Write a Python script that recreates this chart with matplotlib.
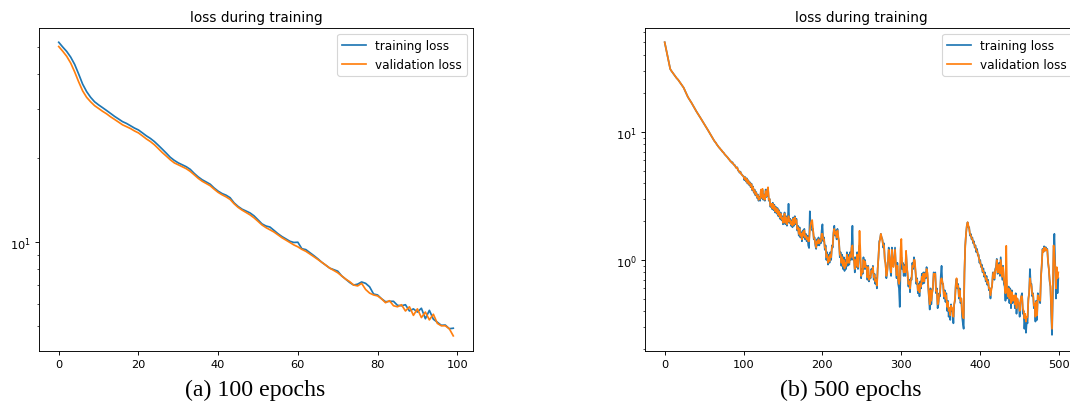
import matplotlib
matplotlib.use("Agg")
import matplotlib.pyplot as plt
import numpy as np

# ---------------- data ----------------
title_text = "loss during training"
legend_labels = ["training loss", "validation loss"]
captions = ["(a) 100 epochs", "(b) 500 epochs"]
left_xticks = [0, 20, 40, 60, 80, 100]
right_xticks = [0, 100, 200, 300, 400, 500]

left_train = [52.0, 50.0, 48.2, 46.0, 43.3, 40.0, 36.8, 34.6, 33.0, 31.8,
              31.0, 30.3, 29.6, 28.9, 28.2, 27.6, 27.0, 26.6, 26.1, 25.6,
              25.2, 24.6, 24.0, 23.5, 22.9, 22.2, 21.5, 20.8, 20.1, 19.6,
              19.2, 18.9, 18.6, 18.2, 17.6, 17.1, 16.7, 16.4, 16.1, 15.6,
              15.2, 14.9, 14.7, 14.4, 13.8, 13.4, 13.1, 12.9, 12.7, 12.4,
              12.0, 11.6, 11.4, 11.3, 11.0, 10.7, 10.45, 10.25, 10.05, 9.95,
              9.97, 9.45, 9.38, 9.15, 8.93, 8.7, 8.45, 8.25, 8.05, 7.95,
              7.85, 7.55, 7.35, 7.15, 7.0, 7.05, 7.18, 7.1, 6.9, 6.5,
              6.45, 6.25, 6.1, 6.12, 6.12, 5.92, 5.9, 5.95, 5.65, 5.75,
              5.6, 5.78, 5.3, 5.68, 5.28, 5.15, 5.02, 5.03, 4.88, 4.9]

left_val = [50.2, 48.3, 46.3, 43.8, 40.7, 37.5, 34.8, 33.0, 31.8, 30.8,
            30.1, 29.4, 28.8, 28.1, 27.5, 26.9, 26.3, 25.9, 25.5, 25.0,
            24.6, 24.0, 23.4, 22.9, 22.3, 21.6, 20.9, 20.3, 19.7, 19.2,
            18.9, 18.6, 18.3, 17.9, 17.4, 16.9, 16.5, 16.2, 15.9, 15.45,
            15.05, 14.75, 14.5, 14.2, 13.7, 13.3, 13.0, 12.75, 12.5, 12.2,
            11.85, 11.5, 11.25, 11.05, 10.85, 10.6, 10.35, 10.15, 9.95, 9.75,
            9.6, 9.4, 9.25, 9.05, 8.85, 8.65, 8.45, 8.25, 8.05, 7.9,
            7.75, 7.55, 7.35, 7.2, 7.0, 6.95, 7.1, 6.75, 6.55, 6.45,
            6.4, 6.25, 6.05, 6.15, 5.9, 5.85, 5.95, 5.65, 5.85, 5.45,
            5.75, 5.35, 5.6, 5.25, 5.5, 5.1, 5.0, 5.0, 4.88, 4.6]

right_train = [
    50.2, 46.9, 43.8, 40.9, 38.2, 35.7, 33.3, 31.1, 30.3, 29.7,
    29.1, 28.5, 27.9, 27.4, 26.9, 26.4, 26.0, 25.6, 25.1, 24.6,
    24.1, 23.6, 23.1, 22.6, 22.2, 21.5, 20.8, 20.2, 19.6, 19.0,
    18.5, 18.1, 17.7, 17.3, 16.9, 16.5, 16.1, 15.7, 15.3, 14.9,
    14.55, 14.2, 13.9, 13.6, 13.3, 13.0, 12.7, 12.4, 12.1, 11.8,
    11.5, 11.3, 11.05, 10.8, 10.55, 10.3, 10.05, 9.8, 9.55, 9.3,
    9.1, 8.9, 8.7, 8.5, 8.35, 8.2, 8.0, 7.85, 7.7, 7.55,
    7.45, 7.3, 7.2, 7.05, 6.95, 6.85, 6.7, 6.6, 6.5, 6.4,
    6.3, 6.15, 6.1, 5.95, 5.9, 5.75, 5.8, 5.6, 5.55, 5.5,
    5.3, 5.25, 5.3, 5.0, 4.95, 4.8, 4.9, 4.7, 4.65, 4.55,
    4.5, 4.2, 4.45, 4.1, 4.35, 3.95, 4.2, 3.85, 4.05, 3.7,
    3.95, 3.5, 3.75, 3.35, 3.55, 3.2, 3.4, 3.05, 3.25, 2.9,
    3.1, 2.9, 3.45, 3.05, 3.5, 2.95, 3.25, 2.9, 3.55, 3.1,
    3.45, 3.65, 2.9, 3.0, 2.6, 2.75, 2.5, 2.8, 2.45, 2.7,
    2.35, 2.6, 2.3, 2.55, 2.2, 2.45, 2.1, 2.35, 2.05, 2.2,
    1.9, 2.15, 2.35, 1.9, 2.2, 1.85, 2.05, 2.75, 1.95, 2.1,
    1.85, 2.05, 1.8, 2.15, 1.85, 2.2, 1.9, 2.1, 1.7, 1.85,
    1.55, 1.8, 1.5, 1.65, 1.4, 1.7, 1.5, 1.75, 1.45, 1.6,
    1.4, 1.55, 1.3, 1.24, 2.4, 1.85, 2.0, 1.7, 1.75, 1.45,
    1.5, 1.3, 1.22, 1.45, 1.3, 1.5, 1.3, 1.45, 1.35, 1.7,
    1.9, 1.4, 1.5, 1.2, 1.3, 1.0, 1.15, 0.92, 1.1, 0.95,
    1.15, 1.0, 1.3, 1.25, 1.65, 1.85, 1.55, 1.7, 1.45, 1.75,
    1.5, 1.4, 1.05, 1.15, 0.9, 1.1, 0.85, 1.05, 0.82, 1.0,
    0.85, 1.15, 0.9, 1.1, 0.92, 1.15, 1.0, 1.3, 1.85, 1.0,
    1.05, 0.8, 1.05, 0.88, 1.15, 0.85, 1.1, 1.3, 1.0, 0.72,
    0.85, 0.78, 1.05, 0.85, 1.0, 0.85, 0.9, 0.7, 0.9, 0.68,
    0.75, 0.72, 0.85, 0.8, 0.9, 0.7, 0.78, 0.65, 0.72, 0.6,
    0.85, 1.05, 1.4, 1.45, 1.6, 1.5, 1.45, 1.25, 1.35, 1.0,
    0.95, 0.72, 0.8, 0.95, 1.25, 1.05, 0.85, 0.75, 1.25, 0.9,
    0.9, 1.05, 1.25, 0.9, 0.72, 0.95, 0.65, 0.6, 0.43, 0.85,
    1.05, 0.85, 0.95, 0.75, 0.92, 0.75, 1.15, 0.9, 0.75, 0.62,
    0.7, 0.56, 0.72, 0.7, 0.95, 0.85, 1.05, 0.95, 0.8, 0.65,
    0.72, 0.55, 0.65, 0.52, 0.68, 0.6, 0.78, 0.65, 0.8, 0.66,
    0.8, 0.72, 0.88, 0.78, 0.62, 0.5, 0.41, 0.6, 0.45, 0.55,
    0.6, 0.8, 0.75, 0.8, 0.55, 0.6, 0.42, 0.45, 0.55, 0.52,
    0.75, 0.9, 0.65, 0.65, 0.5, 0.58, 0.47, 0.55, 0.4, 0.48,
    0.36, 0.42, 0.34, 0.45, 0.4, 0.4, 0.32, 0.45, 0.48, 0.65,
    0.71, 0.6, 0.65, 0.5, 0.6, 0.46, 0.5, 0.36, 0.32, 0.29,
    0.8, 1.29, 1.6, 1.85, 1.97, 1.8, 1.8, 1.55, 1.6, 1.45,
    1.5, 1.35, 1.4, 1.25, 1.3, 1.15, 1.22, 1.08, 1.1, 0.95,
    1.0, 0.88, 0.92, 0.8, 0.86, 0.74, 0.8, 0.68, 0.75, 0.64,
    0.7, 0.58, 0.6, 0.5, 0.6, 0.62, 0.8, 0.78, 0.7, 0.85,
    0.88, 1.02, 0.78, 0.8, 0.95, 0.75, 1.05, 0.85, 0.7, 0.9,
    0.65, 0.62, 0.48, 0.7, 0.5, 0.52, 0.62, 0.46, 0.6, 0.42,
    0.58, 0.46, 0.5, 0.52, 0.42, 0.55, 0.38, 0.5, 0.46, 0.45,
    0.36, 0.48, 0.52, 0.55, 0.38, 0.4, 0.29, 0.35, 0.27, 0.33,
    0.32, 0.5, 0.55, 0.85, 0.65, 0.65, 0.52, 0.55, 0.42, 0.45,
    0.33, 0.48, 0.34, 0.55, 0.5, 0.5, 0.46, 0.75, 0.9, 1.22,
    1.15, 1.28, 1.18, 1.26, 1.2, 1.22, 0.95, 0.85, 0.68, 0.62,
    0.38, 0.26, 0.5, 1.2, 1.6, 0.95, 0.5, 0.85, 0.55, 0.72]

right_val = [
    50.2, 46.9, 43.8, 40.9, 38.2, 35.7, 33.3, 31.1, 30.3, 29.7,
    29.1, 28.5, 27.9, 27.4, 26.9, 26.4, 26.0, 25.6, 25.1, 24.6,
    24.1, 23.6, 23.1, 22.6, 22.2, 21.5, 20.8, 20.2, 19.6, 19.0,
    18.5, 18.1, 17.7, 17.3, 16.9, 16.5, 16.1, 15.7, 15.3, 14.9,
    14.55, 14.2, 13.9, 13.6, 13.3, 13.0, 12.7, 12.4, 12.1, 11.8,
    11.5, 11.3, 11.05, 10.8, 10.55, 10.3, 10.05, 9.8, 9.55, 9.3,
    9.1, 8.9, 8.7, 8.5, 8.35, 8.2, 8.0, 7.85, 7.7, 7.55,
    7.45, 7.3, 7.2, 7.05, 6.95, 6.85, 6.7, 6.6, 6.5, 6.4,
    6.3, 6.2, 6.05, 5.95, 5.85, 5.8, 5.7, 5.65, 5.5, 5.45,
    5.35, 5.2, 5.25, 5.05, 4.95, 4.85, 4.85, 4.7, 4.6, 4.55,
    4.5, 4.3, 4.4, 4.15, 4.3, 4.0, 4.15, 3.9, 4.0, 3.75,
    3.9, 3.55, 3.7, 3.4, 3.5, 3.25, 3.35, 3.1, 3.2, 2.95,
    3.05, 3.0, 3.55, 3.1, 3.6, 3.0, 3.2, 2.95, 3.45, 3.15,
    3.5, 3.7, 2.95, 3.0, 2.65, 2.75, 2.55, 2.75, 2.5, 2.65,
    2.4, 2.55, 2.35, 2.5, 2.25, 2.4, 2.15, 2.3, 2.1, 2.15,
    1.95, 2.1, 2.3, 1.95, 2.15, 1.9, 2.0, 2.2, 2.0, 2.05,
    1.9, 2.0, 1.85, 2.1, 1.9, 2.15, 1.95, 2.05, 1.75, 1.8,
    1.6, 1.75, 1.55, 1.6, 1.45, 1.65, 1.55, 1.7, 1.5, 1.55,
    1.45, 1.5, 1.4, 1.4, 1.7, 1.9, 2.0, 2.05, 1.75, 1.5,
    1.45, 1.35, 1.25, 1.4, 1.35, 1.45, 1.35, 1.4, 1.4, 1.6,
    1.6, 1.45, 1.45, 1.25, 1.25, 1.05, 1.1, 0.95, 1.05, 0.98,
    1.1, 1.05, 1.25, 1.3, 1.6, 1.75, 1.6, 1.65, 1.5, 1.7,
    1.55, 1.35, 1.1, 1.1, 0.95, 1.05, 0.9, 1.0, 0.86, 0.95,
    0.9, 1.1, 0.95, 1.05, 0.95, 1.1, 1.05, 1.25, 1.3, 1.05,
    1.0, 0.85, 1.0, 0.9, 1.1, 0.88, 1.1, 1.69, 1.2, 0.75,
    0.82, 0.8, 1.0, 0.88, 0.97, 0.88, 0.88, 0.73, 0.88, 0.7,
    0.72, 0.75, 0.82, 0.8, 0.88, 0.73, 0.76, 0.68, 0.7, 0.63,
    0.85, 1.05, 1.35, 1.45, 1.6, 1.5, 1.42, 1.3, 1.3, 1.02,
    0.92, 0.75, 0.8, 0.95, 1.2, 1.05, 0.88, 0.8, 1.2, 0.92,
    0.88, 1.05, 1.2, 0.92, 0.76, 0.9, 0.7, 0.65, 0.7, 1.2,
    1.46, 0.95, 0.9, 0.8, 0.88, 0.8, 1.18, 0.88, 0.78, 0.65,
    0.68, 0.6, 0.7, 0.72, 0.9, 0.88, 1.0, 1.0, 0.82, 0.68,
    0.7, 0.58, 0.63, 0.56, 0.65, 0.62, 0.74, 0.68, 0.78, 0.68,
    0.78, 0.74, 0.85, 0.8, 0.64, 0.52, 0.45, 0.58, 0.48, 0.55,
    0.62, 0.78, 0.76, 0.78, 0.57, 0.58, 0.45, 0.47, 0.54, 0.55,
    0.7, 0.72, 0.68, 0.64, 0.52, 0.56, 0.5, 0.53, 0.43, 0.47,
    0.4, 0.42, 0.37, 0.44, 0.41, 0.42, 0.36, 0.45, 0.5, 0.63,
    0.72, 0.62, 0.63, 0.52, 0.58, 0.48, 0.5, 0.4, 0.36, 0.35,
    0.8, 1.29, 1.6, 1.85, 1.97, 1.85, 1.75, 1.6, 1.55, 1.5,
    1.45, 1.4, 1.35, 1.3, 1.25, 1.2, 1.17, 1.12, 1.05, 1.0,
    0.95, 0.9, 0.88, 0.82, 0.82, 0.76, 0.77, 0.7, 0.72, 0.66,
    0.68, 0.6, 0.6, 0.53, 0.58, 0.63, 0.76, 0.8, 0.72, 0.82,
    0.86, 1.0, 0.8, 0.8, 0.92, 0.78, 1.0, 0.86, 0.74, 0.88,
    0.7, 0.65, 0.55, 1.29, 0.6, 0.52, 0.6, 0.5, 0.58, 0.46,
    0.56, 0.48, 0.5, 0.53, 0.45, 0.53, 0.42, 0.5, 0.47, 0.46,
    0.4, 0.47, 0.52, 0.52, 0.42, 0.4, 0.35, 0.38, 0.33, 0.36,
    0.36, 0.48, 0.55, 0.72, 0.65, 0.62, 0.54, 0.54, 0.44, 0.45,
    0.36, 0.47, 0.37, 0.53, 0.5, 0.5, 0.48, 0.72, 0.92, 1.2,
    1.15, 1.25, 1.18, 1.24, 1.2, 1.2, 0.98, 0.85, 0.7, 0.62,
    0.42, 0.29, 0.6, 1.3, 1.1, 0.88, 0.6, 0.88, 0.72, 0.8]

# ---------------- figure ----------------
DPI = 82
plt.rcParams["font.size"] = 10.5
fig = plt.figure(figsize=(1070 / DPI, 417 / DPI), dpi=DPI)

W, H = 1070.0, 417.0
ax1 = fig.add_axes([39 / W, (H - 352) / H, 434 / W, 323 / H])
ax2 = fig.add_axes([645 / W, (H - 352) / H, 433 / W, 323 / H])

c_train = "#1f77b4"
c_val = "#ff7f0e"

for ax, tr, va, ylim, xt in [(ax1, left_train, left_val, (4.06, 58.5), left_xticks),
                             (ax2, right_train, right_val, (0.1945, 64.9), right_xticks)]:
    ep = np.arange(len(tr))
    ax.plot(ep, tr, color=c_train, label=legend_labels[0])
    ax.plot(ep, va, color=c_val, label=legend_labels[1])
    ax.set_yscale("log")
    ax.set_ylim(*ylim)
    ax.set_xticks(xt)
    ax.tick_params(labelsize=10)
    ax.set_title(title_text, fontsize=12)
    ax.legend(loc="upper right", fontsize=10.5)

fig.text(255 / W, 1 - 390 / H, captions[0], ha="center", va="center",
         fontfamily="Liberation Serif", fontsize=21)
fig.text(851 / W, 1 - 390 / H, captions[1], ha="center", va="center",
         fontfamily="Liberation Serif", fontsize=21)

fig.savefig("out.png", dpi=DPI)
